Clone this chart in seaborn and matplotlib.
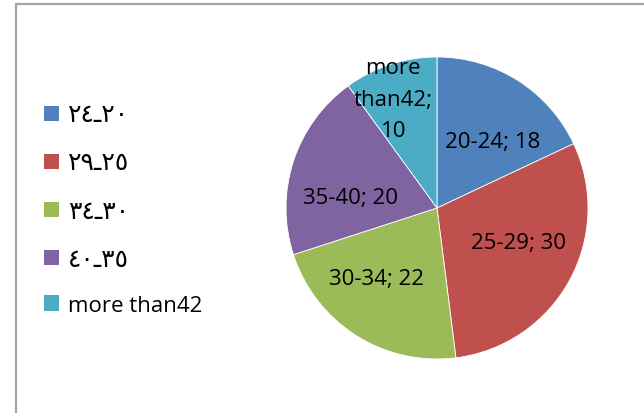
import matplotlib
matplotlib.use('Agg')
import matplotlib.pyplot as plt
import matplotlib.patches as mpatches
import numpy as np
import seaborn as sns

# Data
age_groups = ['20-24', '25-29', '30-34', '35-40', 'more than42']
legend_labels = ['٢٤ـ٢٠', '٢٩ـ٢٥', '٣٤ـ٣٠', '٤٠ـ٣٥', 'more than42']
counts = [18, 30, 22, 20, 10]
colors = ['#4F81BD', '#C0504D', '#9BBB59', '#8064A2', '#4BACC6']

sns.set_theme(style='white')
plt.rcParams['font.family'] = ['Open Sans', 'DejaVu Sans']
plt.rcParams['text.color'] = 'black'

fig = plt.figure(figsize=(6.44, 4.14), dpi=100)

# pie axes: centre (437, 209) px, radius 151 px
W, H = 644, 414
cx, cy, r = 437, 209, 151
ax = fig.add_axes([(cx - r) / W, (H - cy - r) / H, 2 * r / W, 2 * r / H])
wedges, _ = ax.pie(counts, colors=colors, startangle=90, counterclock=False,
                   radius=1, wedgeprops=dict(edgecolor='white', linewidth=0.6))
ax.set_xlim(-1, 1)
ax.set_ylim(-1, 1)
ax.axis('off')

# data labels inside slices
label_texts = ['20-24; 18', '25-29; 30', '30-34; 22', '35-40; 20', 'more\nthan42;\n10']
label_pos = [(0.37, 0.44), (0.54, -0.23), (-0.40, -0.47), (-0.57, 0.07), (-0.29, 0.72)]
for txt, (x, y) in zip(label_texts, label_pos):
    ax.text(x, y, txt, ha='center', va='center', fontsize=16, color='black',
            linespacing=1.65)

# legend
handles = [mpatches.Patch(facecolor=c, edgecolor='none') for c in colors]
leg = fig.legend(handles, legend_labels, loc='upper left', bbox_to_anchor=(0.055, 0.772),
                 frameon=False, fontsize=16, handlelength=0.68, handleheight=0.68,
                 handletextpad=0.4, labelspacing=1.04, borderaxespad=0)
for t in leg.get_texts():
    t.set_color('black')
    if t.get_text() != 'more than42':
        t.set_fontsize(18)

# outer frame of the embedded chart
fig.add_artist(plt.Line2D([16 / W, 16 / W], [0, 1 - 5 / H], color='#A6A6A6', lw=1.6,
                          transform=fig.transFigure))
fig.add_artist(plt.Line2D([16 / W, 1], [1 - 5 / H, 1 - 5 / H], color='#A6A6A6', lw=1.6,
                          transform=fig.transFigure))

fig.savefig('out.png', dpi=100)
